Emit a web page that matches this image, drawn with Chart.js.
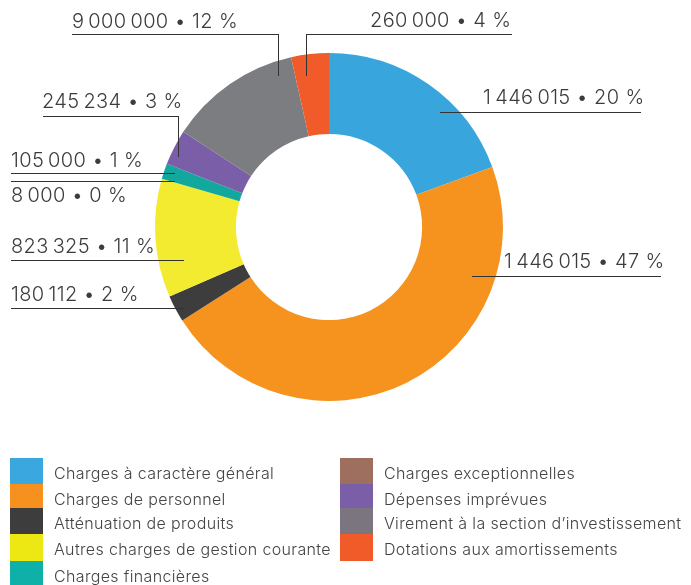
<!DOCTYPE html>
<html>
<head>
<meta charset="utf-8">
<script src="https://cdn.jsdelivr.net/npm/chart.js@4.4.0/dist/chart.umd.min.js"></script>
<style>
    body { margin: 0; background: #fff; }
    #wrap { width: 691px; height: 585px; }
</style>
</head>
<body>
<div id="wrap"><canvas id="myChart" width="691" height="585"></canvas></div>
<script>
// categories, in drawing order (clockwise from the top)
const categories = [
    'Charges à caractère général',
    'Charges de personnel',
    'Atténuation de produits',
    'Autres charges de gestion courante',
    'Charges financières',
    'Charges exceptionnelles',
    'Dépenses imprévues',
    'Virement à la section d\u2019investissement',
    'Dotations aux amortissements'
];
// share of each slice (%)
const shares = [19.4, 46.6, 2.5, 11.0, 1.45, 0, 3.3, 12.3, 3.5];
// amounts printed next to the chart
const amounts = ['1\u2009446\u2009015', '1\u2009446\u2009015', '180\u2009112', '823\u2009325', '105\u2009000', '8\u2009000', '245\u2009234', '9\u2009000\u2009000', '260\u2009000'];
const percents = ['20', '47', '2', '11', '1', '0', '3', '12', '4'];
const colors = ['#38a6dd', '#f6921e', '#3d3d3d', '#f3eb2f', '#13a89e', '#9e6e5e', '#7a5ea8', '#7c7d80', '#f15a29'];
const legendColors = ['#3aa7de', '#f6901e', '#3d3d3d', '#ede813', '#0fb0a8', '#9e6e5e', '#7a5ea8', '#7b7580', '#f15a29'];

// where each callout sits: text x, baseline, underline y, line start/end x, optional vertical drop
const callouts = [
    { tx: 483, ty: 104, ly: 112, x1: 440, x2: 641 },
    { tx: 504, ty: 268, ly: 276, x1: 472, x2: 661 },
    { tx: 11, ty: 301, ly: 308, x1: 11, x2: 184 },
    { tx: 11, ty: 253, ly: 260, x1: 11, x2: 184 },
    { tx: 11, ty: 167, ly: 173, x1: 11, x2: 175 },
    { tx: 11, ty: 202, ly: 181, x1: 11, x2: 175 },
    { tx: 42, ty: 108, ly: 116, x1: 43, x2: 178, drop: 157 },
    { tx: 72, ty: 28, ly: 34, x1: 72, x2: 278, drop: 76 },
    { tx: 370, ty: 27, ly: 34, x1: 306, x2: 512, drop: 76, dropAt: 306 }
];

const labelFont = '300 20px Inter, "Open Sans", sans-serif';
const legendFont = '300 16px Inter, "Open Sans", sans-serif';

const calloutPlugin = {
    id: 'callouts',
    afterDraw: function (chart) {
        const ctx = chart.ctx;
        ctx.save();
        ctx.font = labelFont;
        ctx.letterSpacing = '0.35px';
        ctx.fillStyle = '#3c3c3c';
        ctx.strokeStyle = '#333';
        ctx.lineWidth = 1;
        ctx.textBaseline = 'alphabetic';
        callouts.forEach(function (c, i) {
            ctx.fillText(amounts[i] + ' \u2022 ' + percents[i] + ' %', c.tx, c.ty);
            ctx.beginPath();
            ctx.moveTo(c.x1, c.ly + 0.5);
            ctx.lineTo(c.x2, c.ly + 0.5);
            if (c.drop) {
                const dx = (c.dropAt || c.x2) + 0.5;
                ctx.moveTo(dx, c.ly);
                ctx.lineTo(dx, c.drop);
            }
            ctx.stroke();
        });

        // legend in two columns
        ctx.font = legendFont;
        ctx.letterSpacing = '0.35px';
        const rowTops = [458, 484, 508, 534, 561, 585];
        categories.forEach(function (name, i) {
            const col = i < 5 ? 0 : 1;
            const row = col === 0 ? i : i - 5;
            const sx = col === 0 ? 10 : 340;
            const y0 = rowTops[row], y1 = rowTops[row + 1];
            ctx.fillStyle = legendColors[i];
            ctx.fillRect(sx, y0, 33, y1 - y0);
            ctx.fillStyle = '#444';
            ctx.fillText(name, sx + 44, y0 + 21);
        });
        ctx.restore();
    }
};

new Chart(document.getElementById('myChart').getContext('2d'), {
    type: 'doughnut',
    data: {
        labels: categories,
        datasets: [
            {
                data: shares,
                backgroundColor: colors,
                borderWidth: 0,
            },
        ],
    },
    options: {
        responsive: false,
        animation: false,
        cutout: '53.5%',
        layout: { padding: { left: 155, right: 188, top: 53, bottom: 184 } },
        plugins: {
            legend: { display: false },
            tooltip: { enabled: false },
        },
    },
    plugins: [calloutPlugin],
});
</script>
</body>
</html>
